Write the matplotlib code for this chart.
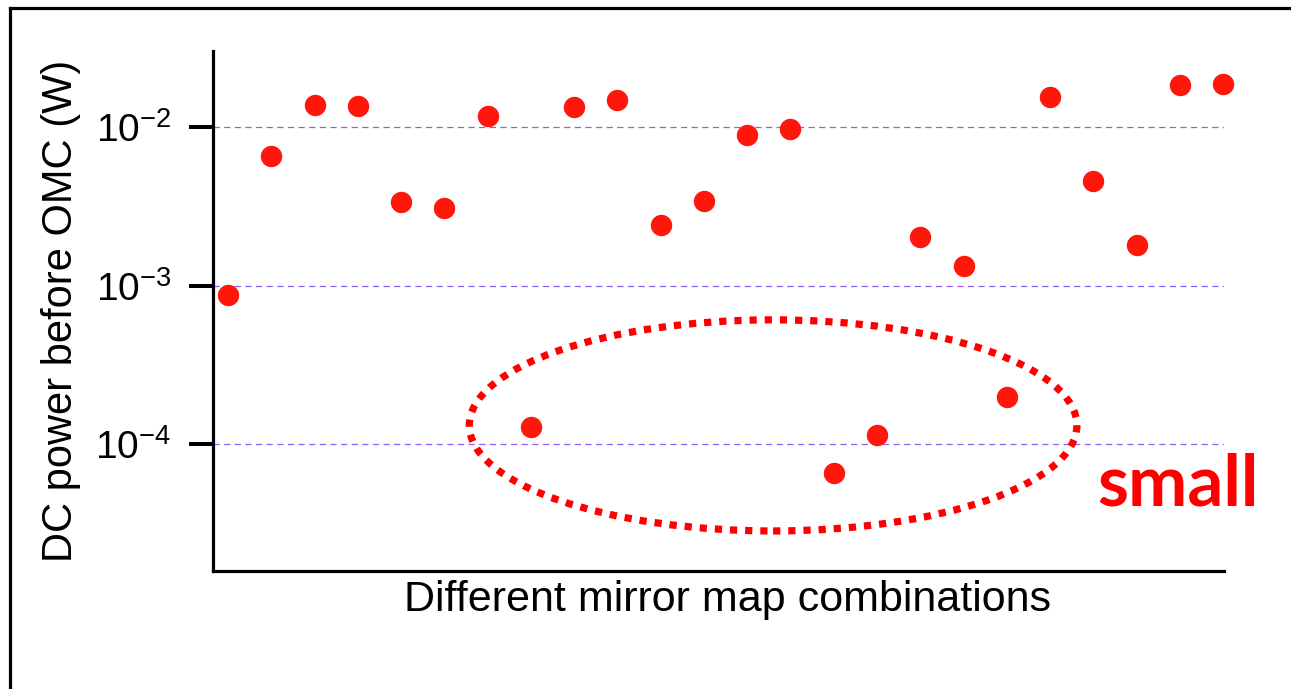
import matplotlib
matplotlib.use('Agg')
import matplotlib.pyplot as plt
from matplotlib.patches import Ellipse
from matplotlib.lines import Line2D
import numpy as np

plt.rcParams['font.family'] = ['Liberation Sans', 'DejaVu Sans']

# DC power before OMC for each mirror map combination (W)
combination = np.arange(1, 25)
dc_power = [8.7e-4, 6.6e-3, 1.38e-2, 1.36e-2, 3.35e-3, 3.08e-3, 1.17e-2, 1.28e-4,
            1.34e-2, 1.48e-2, 2.41e-3, 3.41e-3, 8.9e-3, 9.7e-3, 6.6e-5, 1.14e-4,
            2.02e-3, 1.33e-3, 1.98e-4, 1.55e-2, 4.56e-3, 1.80e-3, 1.84e-2, 1.87e-2]

y_ticks = [1e-4, 1e-3, 1e-2]
y_tick_labels = [r'$\mathregular{10^{-4}}$', r'$\mathregular{10^{-3}}$', r'$\mathregular{10^{-2}}$']

fig = plt.figure(figsize=(12.91, 6.89), dpi=100)
ax = fig.add_axes([213 / 1291, 1 - 571 / 689, (1224 - 213) / 1291, (571 - 51) / 689])

ax.plot(combination, dc_power, 'o', color='#ff170c', markersize=14.4, clip_on=False, zorder=3)

ax.set_yscale('log')
ax.set_ylim(10 ** -4.801, 10 ** -1.5205)
ax.set_xlim(0.653, 24.02)

ax.set_yticks(y_ticks)
ax.set_yticklabels(y_tick_labels)
ax.yaxis.set_minor_locator(matplotlib.ticker.NullLocator())
ax.tick_params(axis='x', which='both', bottom=False, labelbottom=False)
ax.tick_params(axis='y', which='major', left=True, direction='out', length=0,
               labelsize=28, pad=30)

# thick outward tick marks at each decade
ax.hlines(y_ticks, -0.0237, 0, transform=ax.get_yaxis_transform(), colors='black',
          linewidth=2.9, clip_on=False, zorder=4)

# dashed purple grid lines at each decade
for t in y_ticks:
    ax.axhline(t, color='#8f5ff5', linewidth=0.9, dashes=(5, 3.5), zorder=1)

for side in ['top', 'right']:
    ax.spines[side].set_visible(False)
for side in ['left', 'bottom']:
    ax.spines[side].set_linewidth(2.3)

ax.set_ylabel('DC power before OMC (W)', fontsize=30)
ax.yaxis.set_label_coords(-0.131, 0.5)
ax.set_xlabel('Different mirror map combinations', fontsize=31)
ax.xaxis.set_label_coords(0.509, -0.017)

# dotted ellipse around the small values
ell = Ellipse((0.554, 0.280), 0.601, 0.406, transform=ax.transAxes, fill=False,
              edgecolor='#ff0000', linewidth=5.2, linestyle=(0, (1.0, 1.1)), clip_on=False)
ax.add_patch(ell)

fig.text(1097 / 1291, 1 - 505 / 689, 'small', color='#ff0000', fontsize=51,
         fontweight='bold', family=['Lato', 'DejaVu Sans'], va='baseline', ha='left')

# frame around the slide
fig.add_artist(Line2D([10 / 1291, 1.0], [1 - 8 / 689, 1 - 8 / 689], color='black', linewidth=2.3,
                      transform=fig.transFigure))
fig.add_artist(Line2D([10 / 1291, 10 / 1291], [1 - 8 / 689, 0.0], color='black', linewidth=2.3,
                      transform=fig.transFigure))

fig.savefig('out.png', dpi=100)
